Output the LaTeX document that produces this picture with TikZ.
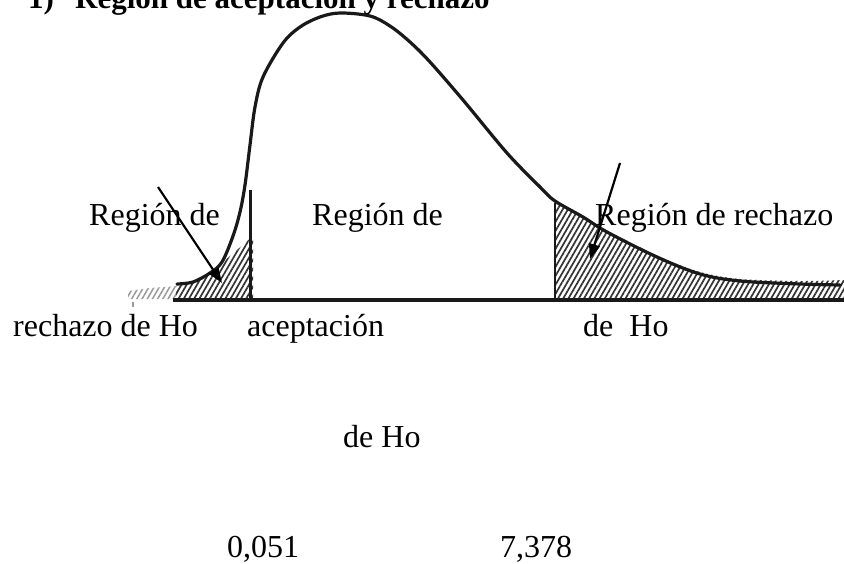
\documentclass[tikz,border=0pt]{standalone}
\usepackage{fontspec}
\setmainfont{Liberation Serif}
\usetikzlibrary{arrows.meta,patterns.meta}
\begin{document}
\begin{tikzpicture}[x=1pt,y=-1pt,
  lbl/.style={anchor=base west,inner sep=0pt,font=\fontsize{32}{38}\selectfont},
  ttl/.style={anchor=base west,inner sep=0pt,font=\fontsize{31}{36}\selectfont\bfseries},
  hatch/.style={pattern={Lines[angle=60,distance=4.5pt,line width=1.7pt]},pattern color=black!80},
  fainthatch/.style={pattern={Lines[angle=60,distance=4.5pt,line width=1.5pt]},pattern color=black!40},
  curvestyle/.style={line width=3.2pt,line join=round,line cap=round,black!90},
  axisstyle/.style={line width=4pt,black!90},
  bar/.style={line width=2.8pt,black!90},
  pointer/.style={line width=2.2pt,-{Triangle[length=15pt,width=11pt]}}]
\useasboundingbox (0,0) rectangle (844,563);
\clip (0,0) rectangle (844,563);
% title
\node[ttl] (num) at (28,8) {1)};
\node[ttl] (title) at (75,8) {Región de aceptación y rechazo};
% labels
\node[lbl] (rl1) at (89,225) {Región de};
\node[lbl] (ra1) at (312,225) {Región de};
\node[lbl] (rr1) at (595,225) {Región de rechazo};
\node[lbl] (rl2) at (13,336) {rechazo de Ho};
\node[lbl] (ra2) at (247,336) {aceptación};
\node[lbl] (rr2) at (583,336) {de\ \ Ho};
\node[lbl] (ra3) at (343,447) {de Ho};
\node[lbl] (v1) at (227,557) {0,051};
\node[lbl] (v2) at (500,557) {7,378};
% hatched regions
\fill[fainthatch] (128,299) -- (128,291) -- (150,288) -- (178,286) -- (178,299) -- cycle;
\fill[hatch] (176,299) -- (176,286) -- plot[smooth] coordinates {(177,285) (193,283) (210,274) (222,263)} -- (253,236) -- (253,299) -- cycle;
\fill[hatch] (555,299) -- plot[smooth] coordinates {(555,200) (583,216) (607,231) (657,256) (700,272) (740,279) (800,281) (844,280)} -- (844,299) -- cycle;
\draw[black!40,line width=1.2pt] (133,302) -- (133,307);
% axis and bars
\draw[axisstyle] (173,299.5) -- (844,299.5);
\draw[bar] (250.5,190) -- (250.5,299);
\draw[bar] (555,203) -- (555,299);
% density curve
\draw[curvestyle] plot[smooth,tension=0.55] coordinates {
 (177,284) (193,282) (210,273) (222,262) (233,236) (240,212) (245,185)
 (250,145) (255,107) (263,77) (283,43) (300,27) (320,17) (340,13) (370,16)
 (390,26) (410,42) (430,62) (463,100) (507,153) (540,187) (555,201)
 (583,217) (607,232) (657,257) (700,274) (740,281) (800,284) (840,285)};
% arrows
\coordinate (la1) at (158,187);
\coordinate (la2) at (222,283);
\coordinate (ra1p) at (620,163);
\coordinate (ra2p) at (590,259);
\draw[pointer] (la1) -- (la2);
\draw[pointer] (ra1p) -- (ra2p);
\end{tikzpicture}
\end{document}
